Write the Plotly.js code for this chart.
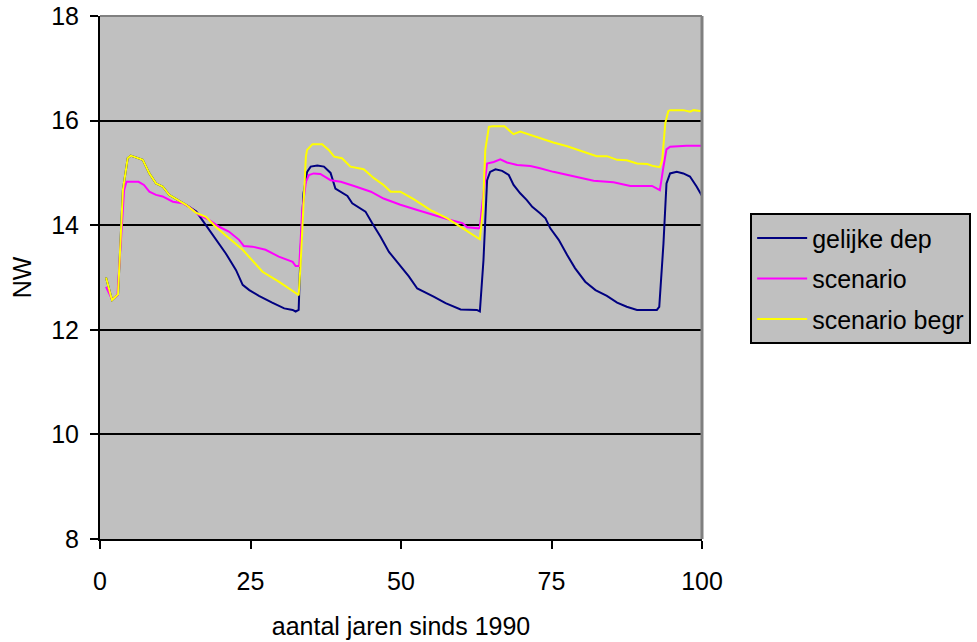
<!DOCTYPE html>
<html>
<head>
<meta charset="utf-8">
<script src="https://cdn.plot.ly/plotly-3.0.1.min.js"></script>
<style>
  html, body { margin: 0; padding: 0; background: #ffffff; }
  #chart { width: 977px; height: 642px; }
</style>
</head>
<body>
<div id="chart"></div>
<script>
// Series names
const seriesNames = ["gelijke dep", "scenario", "scenario begr"];

// gelijke dep (navy)
const xGelijke = [1, 2, 3, 3.3, 3.8, 4.6, 5.1, 7.1, 8.2, 9.3, 10.4, 11.5, 12.6, 14.3, 16.0, 17.6, 19.3, 20.9, 22.6, 23.7, 24.8, 26.4, 28.6, 30.6, 32.0, 32.5, 33.0, 33.3, 33.8, 34.4, 35.0, 36.1, 37.2, 38.3, 39.1, 40.0, 41.1, 41.9, 43.3, 44.1, 45.2, 46.6, 48.0, 49.6, 51.3, 52.7, 53.8, 55.5, 57.4, 59.9, 62.6, 63.1, 63.7, 64.3, 64.8, 65.7, 66.8, 67.9, 68.7, 69.8, 70.9, 71.8, 73.1, 74.0, 74.8, 76.2, 77.6, 78.9, 80.6, 82.3, 84.2, 85.9, 87.5, 89.2, 92.5, 92.9, 93.6, 94.1, 94.7, 95.8, 96.9, 98.0, 99.1, 100];
const yGelijke = [13.0, 12.57, 12.68, 13.53, 14.67, 15.28, 15.33, 15.25, 14.99, 14.80, 14.74, 14.58, 14.51, 14.39, 14.26, 14.0, 13.72, 13.46, 13.14, 12.86, 12.76, 12.65, 12.52, 12.41, 12.38, 12.35, 12.38, 13.46, 14.61, 15.02, 15.12, 15.14, 15.12, 15.0, 14.70, 14.64, 14.56, 14.42, 14.32, 14.26, 14.04, 13.78, 13.49, 13.27, 13.02, 12.79, 12.73, 12.63, 12.51, 12.39, 12.38, 12.35, 13.33, 14.86, 15.02, 15.07, 15.04, 14.96, 14.77, 14.61, 14.48, 14.35, 14.23, 14.13, 13.94, 13.72, 13.43, 13.18, 12.92, 12.76, 12.65, 12.52, 12.44, 12.38, 12.38, 12.44, 13.65, 14.80, 14.99, 15.02, 14.99, 14.93, 14.74, 14.56];

// scenario (magenta)
const xScenario = [1, 2, 2.9, 3.5, 4.0, 4.4, 6.4, 7.3, 8.2, 9.3, 10.4, 12.1, 13.7, 14.8, 16.5, 18.1, 19.8, 21.4, 23.1, 23.9, 25.3, 27.5, 29.7, 32.0, 32.5, 33.1, 33.6, 34.2, 34.7, 35.5, 36.6, 38.3, 40.0, 42.2, 45.0, 47.1, 49.9, 52.7, 55.5, 58.2, 60.2, 61.0, 62.9, 63.1, 63.7, 64.3, 65.4, 66.5, 67.6, 69.3, 71.5, 73.1, 75.3, 77.6, 79.8, 82.0, 85.3, 88.1, 91.7, 92.8, 93.0, 93.6, 94.1, 94.7, 97.4, 100];
const yScenario = [12.82, 12.58, 12.66, 13.72, 14.67, 14.83, 14.83, 14.77, 14.64, 14.58, 14.55, 14.45, 14.42, 14.35, 14.19, 14.10, 13.97, 13.88, 13.72, 13.60, 13.59, 13.53, 13.40, 13.30, 13.22, 13.22, 14.29, 14.83, 14.96, 14.99, 14.98, 14.86, 14.83, 14.75, 14.64, 14.51, 14.39, 14.29, 14.19, 14.10, 14.04, 13.96, 13.94, 13.96, 14.61, 15.18, 15.21, 15.26, 15.20, 15.15, 15.13, 15.09, 15.02, 14.96, 14.91, 14.85, 14.82, 14.75, 14.75, 14.67, 14.67, 15.12, 15.45, 15.50, 15.52, 15.52];

// scenario begr (yellow)
const xBegr = [1, 2, 3, 3.3, 3.8, 4.6, 5.1, 7.1, 8.2, 9.3, 10.4, 11.5, 12.6, 14.3, 15.9, 17.6, 19.2, 21.4, 23.7, 27.0, 29.7, 32.8, 33.0, 33.3, 33.9, 34.2, 34.4, 35.3, 36.9, 38.0, 38.9, 40.2, 41.6, 43.8, 45.5, 47.1, 48.3, 49.9, 52.1, 54.9, 57.7, 59.9, 62.1, 63.1, 63.6, 64.0, 64.6, 65.2, 67.2, 68.7, 69.8, 72.6, 75.3, 77.6, 80.3, 82.5, 84.2, 85.9, 87.5, 89.2, 90.9, 91.9, 93.0, 93.4, 93.9, 94.4, 94.7, 96.9, 98.0, 98.6, 100];
const yBegr = [13.0, 12.57, 12.68, 13.53, 14.67, 15.28, 15.33, 15.25, 14.99, 14.80, 14.74, 14.58, 14.51, 14.39, 14.24, 14.16, 13.97, 13.75, 13.53, 13.11, 12.92, 12.68, 12.66, 13.21, 14.74, 15.31, 15.44, 15.55, 15.55, 15.44, 15.31, 15.28, 15.12, 15.07, 14.90, 14.77, 14.64, 14.64, 14.50, 14.29, 14.13, 13.97, 13.81, 13.73, 14.29, 15.44, 15.88, 15.89, 15.89, 15.74, 15.79, 15.68, 15.58, 15.51, 15.41, 15.32, 15.32, 15.25, 15.24, 15.18, 15.17, 15.13, 15.11, 15.25, 15.95, 16.18, 16.20, 16.20, 16.17, 16.20, 16.18];

// Axis ticks
const xTicks = [0, 25, 50, 75, 100];
const yTicks = [8, 10, 12, 14, 16, 18];

const FONT = "Liberation Sans, Arial, sans-serif";
const FS = 25;

const traces = [
  { x: xGelijke, y: yGelijke, name: seriesNames[0], color: "#000080", group: "g1" },
  { x: xScenario, y: yScenario, name: seriesNames[1], color: "#ff00ff", group: "g2" },
  { x: xBegr, y: yBegr, name: seriesNames[2], color: "#ffff00", group: "g3" }
].map(s => ({
  type: "scatter",
  mode: "lines",
  x: s.x,
  y: s.y,
  name: s.name,
  legendgroup: s.group,
  line: { color: s.color, width: 2 },
  hoverinfo: "x+y+name"
}));

const layout = {
  width: 977,
  height: 642,
  margin: { l: 100, r: 275, t: 16, b: 103, pad: 0, autoexpand: false },
  paper_bgcolor: "#ffffff",
  plot_bgcolor: "#c0c0c0",
  font: { family: FONT, size: FS, color: "#000000" },
  showlegend: true,
  legend: {
    x: 1.08, y: 0.623, xanchor: "left", yanchor: "top",
    bgcolor: "#c0c0c0", bordercolor: "#000000", borderwidth: 2,
    font: { family: FONT, size: FS, color: "#000000" },
    itemwidth: 50,
    traceorder: "grouped", tracegroupgap: 5
  },
  xaxis: {
    range: [0, 100],
    tickvals: xTicks,
    ticktext: xTicks.map(String),
    ticks: "outside", ticklen: 8, tickwidth: 2, tickcolor: "#000000",
    showline: true, linecolor: "#000000", linewidth: 2,
    showgrid: false, zeroline: false,
    ticklabelstandoff: 11,
    tickfont: { family: FONT, size: FS, color: "#000000" },
    title: { text: "aantal jaren sinds 1990", font: { family: FONT, size: FS, color: "#000000" }, standoff: 23 },
    automargin: false
  },
  yaxis: {
    range: [8, 18],
    tickvals: yTicks,
    ticktext: yTicks.map(String),
    ticks: "outside", ticklen: 8, tickwidth: 2, tickcolor: "#000000",
    showline: true, linecolor: "#000000", linewidth: 2,
    showgrid: true, gridcolor: "#000000", gridwidth: 2,
    zeroline: false,
    ticklabelstandoff: 6,
    tickfont: { family: FONT, size: FS, color: "#000000" },
    title: { text: "NW", font: { family: FONT, size: FS, color: "#000000" }, standoff: 12 },
    automargin: false
  },
  shapes: [
    { type: "line", xref: "paper", yref: "paper", x0: 0, x1: 1, y0: 1, y1: 1, line: { color: "#808080", width: 2 } },
    { type: "line", xref: "paper", yref: "paper", x0: 1, x1: 1, y0: 0, y1: 1, line: { color: "#808080", width: 3 } }
  ]
};

Plotly.newPlot("chart", traces, layout, { displayModeBar: false, staticPlot: true });
</script>
</body>
</html>
